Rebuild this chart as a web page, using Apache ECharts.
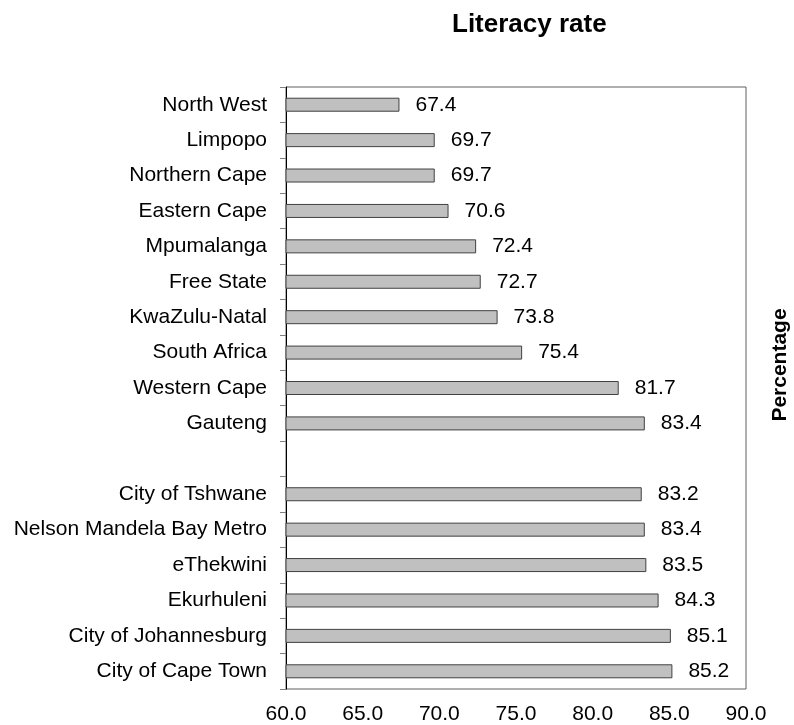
<!DOCTYPE html>
<html>
<head>
<meta charset="utf-8">
<script src="https://cdn.jsdelivr.net/npm/echarts@6/dist/echarts.min.js"></script>
<style>
html,body{margin:0;padding:0;background:#fff;}
#chart{width:794px;height:725px;}
</style>
</head>
<body>
<div id="chart"></div>
<script>
var categories = ["North West","Limpopo","Northern Cape","Eastern Cape","Mpumalanga","Free State","KwaZulu-Natal","South Africa","Western Cape","Gauteng","","City of Tshwane","Nelson Mandela Bay Metro","eThekwini","Ekurhuleni","City of Johannesburg","City of Cape Town"];
var literacy = [67.4,69.7,69.7,70.6,72.4,72.7,73.8,75.4,81.7,83.4,null,83.2,83.4,83.5,84.3,85.1,85.2];
var xTicks = {min:60, max:90, interval:5};

var FONT = '"Liberation Sans", Arial, sans-serif';
var chart = echarts.init(document.getElementById('chart'), null, {renderer:'canvas'});
chart.setOption({
  animation:false,
  backgroundColor:'#ffffff',
  title:{
    text:'Literacy rate',
    left:447, top:7,
    textStyle:{fontFamily:FONT, fontSize:26, fontWeight:'bold', color:'#000'}
  },
  grid:{left:286, right:48, top:87, bottom:36, show:true, borderColor:'#606060', borderWidth:1, backgroundColor:'transparent'},
  xAxis:{
    type:'value', min:xTicks.min, max:xTicks.max, interval:xTicks.interval,
    axisLine:{show:false}, axisTick:{show:false}, splitLine:{show:false},
    axisLabel:{fontFamily:FONT, fontSize:21, color:'#000', margin:15,
      formatter:function(v){return v.toFixed(1);}}
  },
  yAxis:{
    type:'category', data:categories, inverse:true,
    axisLine:{show:true, lineStyle:{color:'#000', width:1}},
    axisTick:{show:true, length:6, lineStyle:{color:'#808080'}},
    axisLabel:{fontFamily:FONT, fontSize:21, color:'#000', margin:19},
    splitLine:{show:false}
  },
  graphic:[{
    type:'text', x:780, y:365, rotation:Math.PI/2,
    style:{text:'Percentage', fontFamily:FONT, fontSize:21, fontWeight:'bold', fill:'#000', align:'center', verticalAlign:'middle'}
  }],
  series:[{
    type:'bar', data:literacy, barWidth:14,
    itemStyle:{color:'#c0c0c0', borderColor:'#404040', borderWidth:1},
    label:{show:true, position:'right', distance:16, fontFamily:FONT, fontSize:21, color:'#000',
      formatter:function(p){return p.value==null?'':p.value.toFixed(1);}}
  }]
});
</script>
</body>
</html>
